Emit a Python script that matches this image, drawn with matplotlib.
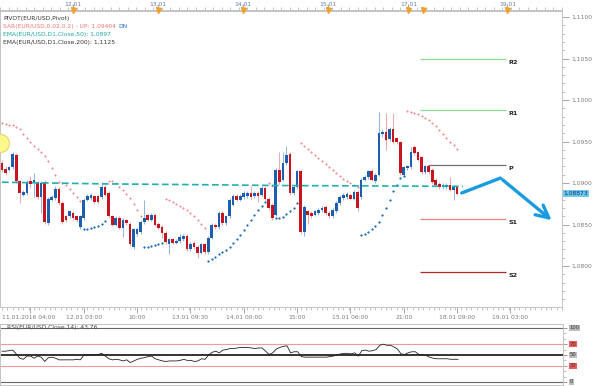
import matplotlib
matplotlib.use("Agg")
import matplotlib.pyplot as plt
import matplotlib.transforms as mtrans
import numpy as np

# EUR/USD hourly candles
opens = [1.0924, 1.0917, 1.0916, 1.0919, 1.0934, 1.0902, 1.0886, 1.0888, 1.0902, 1.0901,
         1.0900, 1.0883, 1.0901, 1.0852, 1.0880, 1.0882, 1.0893, 1.0876, 1.0860, 1.0860,
         1.0864, 1.0860, 1.0847, 1.0858, 1.0880, 1.0882, 1.0884, 1.0884, 1.0883, 1.0895,
         1.0888, 1.0860, 1.0850, 1.0858, 1.0846, 1.0855, 1.0851, 1.0823, 1.0838, 1.0841,
         1.0853, 1.0861, 1.0856, 1.0862, 1.0851, 1.0847, 1.0840, 1.0826, 1.0832, 1.0828,
         1.0830, 1.0832, 1.0836, 1.0820, 1.0828, 1.0823, 1.0816, 1.0826, 1.0817, 1.0834,
         1.0850, 1.0847, 1.0864, 1.0852, 1.0860, 1.0874, 1.0884, 1.0880, 1.0883, 1.0884,
         1.0888, 1.0884, 1.0888, 1.0886, 1.0894, 1.0881, 1.0874, 1.0862, 1.0916, 1.0904,
         1.0924, 1.0935, 1.0888, 1.0895, 1.0914, 1.0841, 1.0866, 1.0864, 1.0862, 1.0864,
         1.0867, 1.0871, 1.0864, 1.0860, 1.0866, 1.0876, 1.0882, 1.0883, 1.0886, 1.0881,
         1.0889, 1.0883, 1.0904, 1.0907, 1.0914, 1.0902, 1.0910, 1.0959, 1.0961, 1.0953,
         1.0965, 1.0954, 1.0949, 1.0910, 1.0918, 1.0919, 1.0943, 1.0937, 1.0931, 1.0913,
         1.0920, 1.0916, 1.0904, 1.0899, 1.0895, 1.0895, 1.0898, 1.0892, 1.0895]
closes = [1.0916, 1.0912, 1.0919, 1.0935, 1.0902, 1.0888, 1.0889, 1.0901, 1.0899, 1.0904,
          1.0883, 1.0900, 1.0853, 1.0881, 1.0883, 1.0893, 1.0876, 1.0853, 1.0856, 1.0866,
          1.0858, 1.0855, 1.0860, 1.0880, 1.0884, 1.0886, 1.0877, 1.0877, 1.0895, 1.0886,
          1.0860, 1.0850, 1.0858, 1.0846, 1.0856, 1.0852, 1.0826, 1.0844, 1.0844, 1.0853,
          1.0858, 1.0856, 1.0862, 1.0850, 1.0846, 1.0840, 1.0829, 1.0832, 1.0828, 1.0830,
          1.0835, 1.0836, 1.0820, 1.0827, 1.0823, 1.0816, 1.0826, 1.0817, 1.0834, 1.0850,
          1.0847, 1.0864, 1.0852, 1.0860, 1.0880, 1.0884, 1.0880, 1.0884, 1.0888, 1.0888,
          1.0883, 1.0888, 1.0884, 1.0894, 1.0881, 1.0870, 1.0858, 1.0916, 1.0901, 1.0924,
          1.0934, 1.0888, 1.0895, 1.0914, 1.0841, 1.0871, 1.0862, 1.0860, 1.0866, 1.0868,
          1.0870, 1.0864, 1.0860, 1.0868, 1.0876, 1.0883, 1.0886, 1.0887, 1.0881, 1.0889,
          1.0870, 1.0904, 1.0907, 1.0914, 1.0904, 1.0910, 1.0960, 1.0961, 1.0952, 1.0965,
          1.0949, 1.0949, 1.0912, 1.0919, 1.0920, 1.0937, 1.0936, 1.0928, 1.0913, 1.0920,
          1.0913, 1.0901, 1.0898, 1.0895, 1.0898, 1.0898, 1.0892, 1.0895, 1.0887]
highs = [1.0928, 1.0920, 1.0921, 1.0937, 1.0936, 1.0904, 1.0892, 1.0904, 1.0908, 1.0912,
         1.0902, 1.0902, 1.0904, 1.0883, 1.0886, 1.0896, 1.0895, 1.0878, 1.0862, 1.0868,
         1.0866, 1.0862, 1.0862, 1.0882, 1.0887, 1.0888, 1.0886, 1.0886, 1.0901, 1.0898,
         1.0890, 1.0862, 1.0860, 1.0860, 1.0858, 1.0857, 1.0853, 1.0846, 1.0846, 1.0855,
         1.0880, 1.0863, 1.0864, 1.0864, 1.0853, 1.0849, 1.0842, 1.0834, 1.0834, 1.0832,
         1.0838, 1.0839, 1.0838, 1.0829, 1.0830, 1.0825, 1.0828, 1.0828, 1.0836, 1.0852,
         1.0852, 1.0866, 1.0866, 1.0862, 1.0882, 1.0887, 1.0887, 1.0887, 1.0890, 1.0890,
         1.0896, 1.0890, 1.0890, 1.0896, 1.0896, 1.0883, 1.0876, 1.0918, 1.0937, 1.0937,
         1.0945, 1.0937, 1.0897, 1.0916, 1.0916, 1.0873, 1.0868, 1.0866, 1.0868, 1.0870,
         1.0872, 1.0873, 1.0866, 1.0870, 1.0878, 1.0885, 1.0888, 1.0889, 1.0888, 1.0891,
         1.0891, 1.0906, 1.0910, 1.0916, 1.0917, 1.0912, 1.0986, 1.0965, 1.0984, 1.0968,
         1.0984, 1.0956, 1.0951, 1.0921, 1.0922, 1.0943, 1.0946, 1.0939, 1.0933, 1.0922,
         1.0922, 1.0918, 1.0906, 1.0901, 1.0900, 1.0900, 1.0907, 1.0897, 1.0897]
lows = [1.0913, 1.0910, 1.0914, 1.0917, 1.0900, 1.0876, 1.0884, 1.0886, 1.0894, 1.0883,
        1.0881, 1.0864, 1.0851, 1.0850, 1.0878, 1.0880, 1.0874, 1.0851, 1.0853, 1.0858,
        1.0856, 1.0853, 1.0844, 1.0856, 1.0878, 1.0880, 1.0875, 1.0875, 1.0881, 1.0884,
        1.0858, 1.0848, 1.0848, 1.0844, 1.0835, 1.0850, 1.0824, 1.0821, 1.0836, 1.0839,
        1.0851, 1.0854, 1.0854, 1.0848, 1.0844, 1.0834, 1.0827, 1.0814, 1.0826, 1.0826,
        1.0828, 1.0830, 1.0818, 1.0818, 1.0821, 1.0810, 1.0814, 1.0815, 1.0814, 1.0832,
        1.0845, 1.0845, 1.0850, 1.0850, 1.0858, 1.0872, 1.0878, 1.0878, 1.0881, 1.0882,
        1.0881, 1.0882, 1.0877, 1.0884, 1.0879, 1.0868, 1.0856, 1.0860, 1.0899, 1.0902,
        1.0922, 1.0886, 1.0886, 1.0893, 1.0839, 1.0836, 1.0851, 1.0858, 1.0860, 1.0862,
        1.0865, 1.0862, 1.0858, 1.0858, 1.0864, 1.0874, 1.0880, 1.0881, 1.0879, 1.0879,
        1.0866, 1.0881, 1.0902, 1.0905, 1.0902, 1.0900, 1.0908, 1.0956, 1.0940, 1.0951,
        1.0947, 1.0947, 1.0910, 1.0907, 1.0916, 1.0917, 1.0934, 1.0926, 1.0911, 1.0911,
        1.0911, 1.0899, 1.0896, 1.0893, 1.0893, 1.0893, 1.0890, 1.0880, 1.0885]

# Parabolic SAR, one value per candle
sar = [1.0972, 1.0971, 1.0970, 1.0970, 1.0967, 1.0965, 1.0959, 1.0954, 1.0949, 1.0945,
       1.0941, 1.0937, 1.0933, 1.0927, 1.0918, 1.0910, 1.0901, 1.0900, 1.0898, 1.0893,
       1.0888, 1.0883, 1.0878, 1.0845, 1.0845, 1.0846, 1.0847, 1.0848, 1.0851, 1.0854,
       1.0902, 1.0902, 1.0900, 1.0895, 1.0892, 1.0887, 1.0882, 1.0875, 1.0867, 1.0860,
       1.0823, 1.0823, 1.0824, 1.0825, 1.0827, 1.0828, 1.0881, 1.0880, 1.0877, 1.0875,
       1.0872, 1.0870, 1.0867, 1.0864, 1.0860, 1.0855, 1.0851, 1.0846, 1.0806, 1.0808,
       1.0811, 1.0814, 1.0817, 1.0819, 1.0823, 1.0828, 1.0833, 1.0837, 1.0843, 1.0849,
       1.0855, 1.0861, 1.0867, 1.0872, 1.0877, 1.0900, 1.0896, 1.0858, 1.0858, 1.0859,
       1.0863, 1.0866, 1.0870, 1.0876, 1.0948, 1.0945, 1.0941, 1.0937, 1.0934, 1.0930,
       1.0927, 1.0923, 1.0919, 1.0916, 1.0912, 1.0908, 1.0905, 1.0902, 1.0900, 1.0898,
       1.0895, 1.0837, 1.0839, 1.0841, 1.0845, 1.0848, 1.0853, 1.0861, 1.0870, 1.0880,
       1.0890, 1.0898, 1.0906, 1.0908, 1.0987, 1.0986, 1.0984, 1.0983, 1.0981, 1.0978,
       1.0976, 1.0972, 1.0969, 1.0964, 1.0959, 1.0954, 1.0949, 1.0946, 1.0941]

# RSI(14), one value per candle
rsi = [57, 57, 58, 59, 52, 44, 42, 48, 48, 44, 48, 46, 38, 45, 46, 44, 41, 41, 41, 41,
       41, 42, 41, 50, 50, 50, 50, 51, 53, 48, 43, 41, 42, 41, 39, 41, 36, 39, 42, 44,
       45, 47, 48, 43, 41, 39, 38, 39, 39, 39, 40, 42, 40, 40, 38, 39, 43, 42, 50, 55,
       57, 54, 59, 60, 62, 62, 63, 64, 64, 64, 63, 62, 63, 63, 57, 51, 54, 61, 64, 66,
       67, 54, 56, 56, 47, 46, 46, 46, 46, 46, 46, 46, 47, 48, 50, 52, 53, 53, 52, 54,
       48, 58, 59, 57, 58, 60, 68, 70, 68, 68, 65, 61, 52, 51, 54, 56, 56, 51, 50, 49,
       46, 44, 43, 43, 43, 43, 42, 42, 42]

ema50_idx = [0, 28, 56, 78, 129.6]
ema50_val = [1.0901, 1.0899, 1.0898, 1.0897, 1.0896]

pivot_names = ["R2", "R1", "P", "S1", "S2"]
pivot_vals = [1.1049, 1.0988, 1.0922, 1.0857, 1.0793]
pivot_start = [117.7, 117.7, 119.7, 117.7, 117.7]
pivot_end = 141.7
pivot_colors = ["#8fdc8f", "#8fdc8f", "#707070", "#e88080", "#c02020"]

arrow_x = [129.3, 140.2, 155.2]
arrow_y = [1.0888, 1.0906, 1.0853]

bottom_labels = ["11.01.2016 04:00", "12.01 03:00", "10:00", "13.01 09:30", "14.01 00:00",
                 "15:00", "15.01 06:00", "21:00", "18.01 09:00", "19.01 03:00"]
bottom_pos = [8, 23, 38, 53, 68, 83, 98, 113, 128, 143]
top_labels = ["12.01", "13.01", "14.01", "15.01", "17.01", "19.01"]
top_pos = [20, 43.9, 67.9, 91.8, 114.6, 142.5]
marker_pos = [20, 43.9, 67.9, 91.8, 114.6, 118.6, 142.5]

last_price = 1.08873
rsi_last = "43,76"

W, H = 594, 386
UP, DOWN = "#1c5fb0", "#c8141e"
GREY = "#7a7a7a"
FS = 4.3


def rect(x0, y0, x1, y1):
    return [x0 / W, 1 - y1 / H, (x1 - x0) / W, (y1 - y0) / H]


def comma(v, nd=4):
    return f"{v:.{nd}f}".replace(".", ",")


fig = plt.figure(figsize=(W / 100, H / 100), dpi=100)
fig.patch.set_facecolor("white")

ax = fig.add_axes(rect(0, 11, 562, 307))
ax_top = fig.add_axes(rect(0, 0, 562, 10))
ax_rsi = fig.add_axes(rect(0, 324, 563, 385))

x = np.arange(len(closes))
o, c, h, l = map(np.array, (opens, closes, highs, lows))
up = c >= o

# candles
ax.vlines(x[up], l[up], h[up], color="#7ea6dc", lw=0.6, zorder=2)
ax.vlines(x[~up], l[~up], h[~up], color="#e59a9a", lw=0.6, zorder=2)
body = np.maximum(np.abs(c - o), 0.00012)
ax.bar(x, body, bottom=np.minimum(o, c), width=0.72,
       color=np.where(up, UP, DOWN), linewidth=0, zorder=3)

# parabolic SAR
sar = np.array(sar)
above = sar > c
ax.plot(x[above], sar[above], "+", color="#f28c8c", ms=2.1, mew=0.8, ls="none", zorder=4)
ax.plot(x[~above], sar[~above], "+", color="#1f6fb8", ms=2.1, mew=0.9, ls="none", zorder=4)

# EMA 50
ax.plot(ema50_idx, ema50_val, color="#1fb0b0", lw=1.2, ls=(0, (4, 2)), zorder=5)

# pivot levels
for name, val, x0, col in zip(pivot_names, pivot_vals, pivot_start, pivot_colors):
    ax.hlines(val, x0, pivot_end, color=col, lw=0.9, zorder=2)
    ax.text(pivot_end + 0.8, val - 0.0004, name, fontsize=4.6, color="#222222",
            fontweight="bold", va="center", ha="left")

# forecast arrow
ax.plot(arrow_x[:2], arrow_y[:2], color="#1a9be0", lw=2.4, solid_capstyle="round", zorder=6)
ax.annotate("", xy=(arrow_x[2], arrow_y[2]), xytext=(arrow_x[1], arrow_y[1]),
            arrowprops=dict(arrowstyle="->,head_length=0.9,head_width=0.45",
                            color="#1a9be0", lw=2.4), zorder=6)

# news marker
ax.plot([-0.56], [1.0948], "o", ms=13, mfc="#fbf98a", mec="#e6d870", mew=0.8, zorder=6)

ax.set_xlim(-0.563, 157.18)
ax.set_ylim(1.07506, 1.11073)

ax.yaxis.tick_right()
ax.set_yticks(np.arange(1.0800, 1.1101, 0.005))
ax.set_yticks(np.arange(1.0760, 1.1101, 0.001), minor=True)
ax.set_yticklabels([comma(v) for v in np.arange(1.0800, 1.1101, 0.005)])
ax.tick_params(axis="y", which="major", length=5, width=0.6, color="#999999",
               labelsize=FS, labelcolor=GREY, pad=1.5)
ax.tick_params(axis="y", which="minor", length=2.5, width=0.5, color="#aaaaaa")

ax.set_xticks(bottom_pos)
ax.set_xticks(np.arange(0, 158, 1.5), minor=True)
ax.set_xticklabels([])
ax.tick_params(axis="x", which="major", length=4, width=0.6, color="#999999")
ax.tick_params(axis="x", which="minor", length=2, width=0.5, color="#aaaaaa")
for sp in ax.spines.values():
    sp.set_color("#c4c4c4")
    sp.set_linewidth(0.7)

trans = mtrans.blended_transform_factory(ax.transData, ax.transAxes)
for i, (lab, pos) in enumerate(zip(bottom_labels, bottom_pos)):
    if i == 0:
        ax.text(0.0, -0.037, lab, transform=trans, fontsize=FS, color=GREY,
                ha="left", va="center")
    else:
        ax.text(pos, -0.037, lab, transform=trans, fontsize=FS, color=GREY,
                ha="center", va="center")

# current price tag
ptrans = mtrans.blended_transform_factory(ax.transAxes, ax.transData)
ax.text(1.003, last_price, comma(last_price, 5), transform=ptrans, fontsize=FS,
        color="#10305a", ha="left", va="center",
        bbox=dict(boxstyle="square,pad=0.15", fc="#6dc8f0", ec="none"))

# indicator legend
legend_lines = [
    ("PIVOT(EUR/USD,Pivot)", "#333333"),
    ("SAR(EUR/USD,0.02,0.2) - UP: 1,09404", "#ee7777"),
    ("EMA(EUR/USD,D1,Close,50): 1,0897", "#20a8a8"),
    ("EMA(EUR/USD,D1,Close,200): 1,1125", "#333333"),
]
for k, (txt, col) in enumerate(legend_lines):
    ax.text(0.006, 0.983 - k * 0.027, txt, transform=ax.transAxes, fontsize=FS,
            color=col, ha="left", va="top")
fig.canvas.draw()
bb = ax.texts[-3].get_window_extent()
fx, fy = fig.transFigure.inverted().transform((bb.x1, bb.y0))
fig.text(fx + 0.004, fy, "DN", fontsize=FS, color="#2a70c0", ha="left", va="bottom")

# top date strip
ax_top.set_xlim(-0.563, 157.18)
ax_top.set_ylim(0, 1)
ax_top.set_xticks(top_pos)
ax_top.set_xticks(np.arange(-0.5, 158, 2.4), minor=True)
ax_top.set_xticklabels([])
ax_top.tick_params(axis="x", which="major", direction="in", length=4, width=0.6, color="#999999")
ax_top.tick_params(axis="x", which="minor", direction="in", length=2.2, width=0.5, color="#aaaaaa")
ax_top.set_yticks([])
for name in ("top", "left", "right"):
    ax_top.spines[name].set_visible(False)
ax_top.spines["bottom"].set_color("#c4c4c4")
ax_top.spines["bottom"].set_linewidth(0.7)
for lab, pos in zip(top_labels, top_pos):
    ax_top.text(pos, 0.6, lab, fontsize=FS, color="#6a7aa0", ha="center", va="center")
ax_top.plot(marker_pos, [0.0] * len(marker_pos), "v", color="#f0a030", ms=3.6,
            clip_on=False, zorder=5)

# RSI panel
ax_rsi.set_xlim(-0.563, 157.46)
ax_rsi.set_ylim(-5.6, 107.4)
ax_rsi.plot(x, rsi, color="#222222", lw=0.6, zorder=3)
ax_rsi.axhline(100, color="#666666", lw=0.8)
ax_rsi.axhline(0, color="#666666", lw=0.8)
ax_rsi.axhline(70, color="#ee9a9a", lw=0.8)
ax_rsi.axhline(30, color="#ee9a9a", lw=0.8)
ax_rsi.axhline(50, color="#111111", lw=1.2)
ax_rsi.set_xticks([])
ax_rsi.yaxis.tick_right()
ax_rsi.set_yticks([0, 30, 50, 70, 100])
ax_rsi.set_yticks(np.arange(0, 101, 10), minor=True)
ax_rsi.set_yticklabels([])
ax_rsi.tick_params(axis="y", which="major", length=3, width=0.6, color="#888888")
ax_rsi.tick_params(axis="y", which="minor", length=2, width=0.5, color="#aaaaaa")
for sp in ax_rsi.spines.values():
    sp.set_color("#c4c4c4")
    sp.set_linewidth(0.7)
rtrans = mtrans.blended_transform_factory(ax_rsi.transAxes, ax_rsi.transData)
for lv, fc in [(100, "#bdbdbd"), (70, "#f05a5a"), (50, "#bdbdbd"), (30, "#f05a5a"), (0, "#bdbdbd")]:
    ax_rsi.text(1.012, lv, str(lv), transform=rtrans, fontsize=3.8, color="#333333",
                ha="left", va="center",
                bbox=dict(boxstyle="square,pad=0.1", fc=fc, ec="none"))
ax_rsi.text(0.012, 101, f"RSI(EUR/USD,Close,14): {rsi_last}", transform=rtrans,
            fontsize=FS, color="#444444", ha="left", va="center", zorder=5)

fig.savefig("out.png", dpi=100, facecolor="white")
